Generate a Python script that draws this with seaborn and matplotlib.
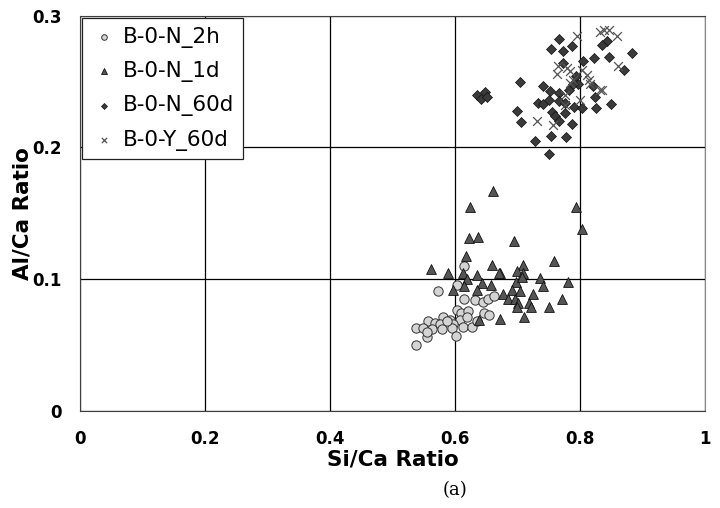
import numpy as np
import pandas as pd
import matplotlib
matplotlib.use('Agg')
import matplotlib.pyplot as plt
import seaborn as sns

# Si/Ca and Al/Ca ratios
n_2h_x = [0.614, 0.603, 0.573, 0.614, 0.632, 0.645, 0.653, 0.662, 0.603, 0.610, 0.621, 0.646,
          0.655, 0.581, 0.592, 0.608, 0.557, 0.568, 0.576, 0.597, 0.613, 0.627, 0.635, 0.538,
          0.549, 0.563, 0.579, 0.595, 0.555, 0.602, 0.538, 0.555, 0.587, 0.619]
n_2h_y = [0.110, 0.096, 0.091, 0.085, 0.084, 0.083, 0.085, 0.087, 0.077, 0.074, 0.076, 0.074,
          0.073, 0.071, 0.069, 0.069, 0.068, 0.067, 0.066, 0.066, 0.064, 0.064, 0.068, 0.063,
          0.063, 0.062, 0.062, 0.063, 0.056, 0.057, 0.050, 0.060, 0.068, 0.071]

n_1d_x = [0.622, 0.637, 0.694, 0.794, 0.803, 0.661, 0.758, 0.709, 0.699, 0.709, 0.672, 0.698,
          0.707, 0.736, 0.741, 0.781, 0.691, 0.704, 0.725, 0.677, 0.685, 0.696, 0.701, 0.718,
          0.771, 0.699, 0.722, 0.750, 0.710, 0.638, 0.672, 0.618, 0.561, 0.589, 0.613, 0.659,
          0.670, 0.635, 0.619, 0.643, 0.658, 0.614, 0.597, 0.635, 0.624]
n_1d_y = [0.131, 0.132, 0.129, 0.155, 0.138, 0.167, 0.114, 0.111, 0.106, 0.105, 0.105, 0.098,
          0.102, 0.101, 0.095, 0.098, 0.092, 0.091, 0.089, 0.089, 0.085, 0.085, 0.082, 0.082,
          0.085, 0.079, 0.079, 0.079, 0.071, 0.069, 0.070, 0.118, 0.108, 0.105, 0.105, 0.111,
          0.105, 0.103, 0.100, 0.097, 0.096, 0.095, 0.092, 0.092, 0.155]

n_60d_x = [0.884, 0.846, 0.870, 0.850, 0.843, 0.835, 0.766, 0.754, 0.773, 0.788, 0.823, 0.773,
           0.805, 0.794, 0.797, 0.741, 0.704, 0.821, 0.752, 0.766, 0.782, 0.789, 0.824, 0.733,
           0.741, 0.750, 0.766, 0.776, 0.790, 0.803, 0.826, 0.755, 0.760, 0.767, 0.776, 0.787,
           0.706, 0.754, 0.777, 0.728, 0.750, 0.636, 0.641, 0.648, 0.652, 0.700]
n_60d_y = [0.272, 0.269, 0.259, 0.233, 0.281, 0.278, 0.282, 0.275, 0.273, 0.277, 0.268, 0.264,
           0.266, 0.254, 0.248, 0.247, 0.250, 0.247, 0.243, 0.241, 0.244, 0.248, 0.238, 0.234,
           0.233, 0.236, 0.235, 0.234, 0.231, 0.230, 0.230, 0.227, 0.224, 0.220, 0.226, 0.218,
           0.219, 0.209, 0.208, 0.205, 0.195, 0.240, 0.237, 0.242, 0.238, 0.228]

y_60d_x = [0.859, 0.847, 0.838, 0.861, 0.835, 0.795, 0.832, 0.765, 0.779, 0.763, 0.784, 0.803,
           0.811, 0.789, 0.784, 0.815, 0.731, 0.757, 0.832, 0.816, 0.800, 0.776, 0.776]
y_60d_y = [0.285, 0.289, 0.289, 0.262, 0.244, 0.285, 0.288, 0.262, 0.260, 0.256, 0.258, 0.259,
           0.255, 0.251, 0.249, 0.251, 0.220, 0.217, 0.244, 0.248, 0.236, 0.232, 0.240]

x_ticks = [0, 0.2, 0.4, 0.6, 0.8, 1]
x_tick_labels = ['0', '0.2', '0.4', '0.6', '0.8', '1']
y_ticks = [0, 0.1, 0.2, 0.3]
y_tick_labels = ['0', '0.1', '0.2', '0.3']

sns.set_style('white')
plt.rcParams['font.family'] = ['DejaVu Sans']
plt.rcParams['text.color'] = 'black'
plt.rcParams['axes.labelcolor'] = 'black'
plt.rcParams['xtick.color'] = 'black'
plt.rcParams['ytick.color'] = 'black'

fig = plt.figure(figsize=(7.2, 5.08), dpi=100)
ax = fig.add_axes([0.111, 0.191, 0.868, 0.778])

sns.scatterplot(x=n_2h_x, y=n_2h_y, ax=ax, marker='o', s=45, color='#d4d4d4',
                edgecolor='#333333', linewidth=0.7, label='B-0-N_2h', zorder=3)
sns.scatterplot(x=n_1d_x, y=n_1d_y, ax=ax, marker='^', s=50, color='#555555',
                edgecolor='#111111', linewidth=0.6, label='B-0-N_1d', zorder=3)
sns.scatterplot(x=n_60d_x, y=n_60d_y, ax=ax, marker='D', s=26, color='#3a3a3a',
                edgecolor='#111111', linewidth=0.5, label='B-0-N_60d', zorder=3)
sns.scatterplot(x=y_60d_x, y=y_60d_y, ax=ax, marker='x', s=40, color='#555555',
                linewidth=0.9, label='B-0-Y_60d', zorder=3)

ax.set_xlim(0, 1)
ax.set_ylim(0, 0.3)
ax.set_xticks(x_ticks)
ax.set_xticklabels(x_tick_labels, fontsize=12, fontweight='bold')
ax.set_yticks(y_ticks)
ax.set_yticklabels(y_tick_labels, fontsize=12, fontweight='bold')
ax.tick_params(axis='x', length=0, pad=14, labelcolor='black')
ax.tick_params(axis='y', length=0, pad=13, labelcolor='black')
ax.grid(True, color='black', linewidth=0.9)
ax.set_axisbelow(True)
for side in ['left', 'bottom', 'top']:
    ax.spines[side].set_color('#404040')
ax.spines['right'].set_color('#888888')

ax.set_xlabel('Si/Ca Ratio', fontsize=15.5, fontweight='bold', labelpad=1, color='black')
ax.set_ylabel('Al/Ca Ratio', fontsize=15.5, fontweight='bold', labelpad=0, color='black')

leg = ax.legend(loc='upper left', fontsize=15.5, frameon=True, fancybox=False,
                edgecolor='#222222', framealpha=1, markerscale=0.6,
                handletextpad=0.3, labelspacing=0.62, borderpad=0.4,
                borderaxespad=0.1, handlelength=1.2, labelcolor='black')
leg.get_frame().set_linewidth(0.9)

fig.text(0.632, 0.025, '(a)', fontsize=13, family='DejaVu Serif', ha='center')

fig.savefig('out.png', dpi=100)
